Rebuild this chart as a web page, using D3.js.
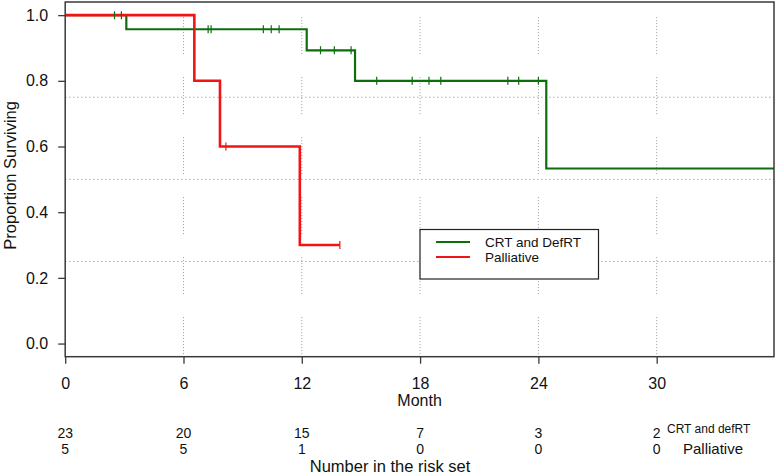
<!DOCTYPE html>
<html><head><meta charset="utf-8">
<script src="https://cdn.jsdelivr.net/npm/d3@7"></script>
<style>body{margin:0;background:#fff}svg{display:block}text{font-family:"Liberation Sans",Arial,sans-serif;fill:#111}</style>
</head><body><svg id="c" width="778" height="474"></svg>
<script>
// ---- data ----
const xTicks = [0, 6, 12, 18, 24, 30];
const yTicks = [0, 0.2, 0.4, 0.6, 0.8, 1.0];
const yTickLabels = ["0.0", "0.2", "0.4", "0.6", "0.8", "1.0"];
const gridY = [0.25, 0.5, 0.75];

const crtTimes = [0, 3.1, 12.25, 14.7, 24.4];
const crtSurv = [1.0, 0.957, 0.893, 0.80, 0.533];
const crtEnd = 36;
const crtCensor = [2.5, 2.85, 7.25, 7.4, 10.05, 10.45, 10.85, 12.95, 13.65, 14.5, 15.8, 17.6, 18.45, 19.05, 22.45, 23.0, 24.0];

const palTimes = [0, 6.55, 7.85, 11.9];
const palSurv = [1.0, 0.8, 0.6, 0.3];
const palEnd = 13.93;
const palCensor = [8.15, 13.93];

const riskTimes = [0, 6, 12, 18, 24, 30];
const riskCRT = [23, 20, 15, 7, 3, 2];
const riskPal = [5, 5, 1, 0, 0, 0];

const seriesNames = ["CRT and DefRT", "Palliative"];
const riskNames = ["CRT and defRT", "Palliative"];

// ---- layout ----
const svg = d3.select("#c");
const L = 65.2, R = 774, T = 2, B = 356.7;
const x = d3.scaleLinear().domain([0, 35.95]).range([L, R]);
const y = d3.scaleLinear().domain([-0.04, 1.04]).range([B, T]);
const GREEN = "#0e6e0e", RED = "#f21414";
const FS = 16;

// grid
const gv = svg.append("g").attr("stroke", "#9a9a9a").attr("stroke-width", 1);
const vDash = "1 2 1 2 1 2 1 2 1 2 1 2 1 2 1 2 1 2 1 2 1 2 1 2 1 23";
xTicks.filter(d => d > 0).forEach(t => {
  gv.append("line").attr("x1", x(t)).attr("x2", x(t)).attr("y1", y(1.0) + 2).attr("y2", B)
    .attr("stroke-dasharray", vDash);
});
gridY.forEach(v => {
  gv.append("line").attr("x1", L).attr("x2", R).attr("y1", y(v)).attr("y2", y(v))
    .attr("stroke-dasharray", "1.2 2.8");
});

// step curve builder
function stepPts(times, surv, end) {
  const pts = [];
  times.forEach((t, i) => {
    if (i > 0) pts.push([t, surv[i - 1]]);
    pts.push([t, surv[i]]);
  });
  pts.push([end, surv[surv.length - 1]]);
  return pts;
}
function survAt(times, surv, t) {
  let s = surv[0];
  times.forEach((tt, i) => { if (tt <= t) s = surv[i]; });
  return s;
}
const line = d3.line().x(d => x(d[0])).y(d => y(d[1]));
svg.append("clipPath").attr("id", "pc").append("rect").attr("x", L).attr("y", T).attr("width", R - L).attr("height", B - T);
const curves = svg.append("g").attr("clip-path", "url(#pc)");

curves.append("path").datum(stepPts(crtTimes, crtSurv, crtEnd)).attr("d", line)
  .attr("fill", "none").attr("stroke", GREEN).attr("stroke-width", 2.2);
curves.append("path").datum(stepPts(palTimes, palSurv, palEnd)).attr("d", line)
  .attr("fill", "none").attr("stroke", RED).attr("stroke-width", 2.6);

curves.selectAll(".cc").data(crtCensor).enter().append("line")
  .attr("x1", d => x(d)).attr("x2", d => x(d))
  .attr("y1", d => y(survAt(crtTimes, crtSurv, d)) - 4).attr("y2", d => y(survAt(crtTimes, crtSurv, d)) + 4)
  .attr("stroke", GREEN).attr("stroke-width", 1.2);
curves.selectAll(".pc").data(palCensor).enter().append("line")
  .attr("x1", d => x(d)).attr("x2", d => x(d))
  .attr("y1", d => y(survAt(palTimes, palSurv, d)) - 4).attr("y2", d => y(survAt(palTimes, palSurv, d)) + 4)
  .attr("stroke", RED).attr("stroke-width", 1.2);

// box
svg.append("rect").attr("x", L).attr("y", T).attr("width", R - L).attr("height", B - T)
  .attr("fill", "none").attr("stroke", "#3a3a3a").attr("stroke-width", 1.5);

// y axis
const yAxis = svg.append("g").attr("transform", `translate(${L},0)`)
  .call(d3.axisLeft(y).tickValues(yTicks).tickSize(7).tickPadding(10).tickFormat((d, i) => yTickLabels[i]));
yAxis.select(".domain").remove();
yAxis.selectAll(".tick line").attr("stroke", "#3a3a3a").attr("stroke-width", 1.3);
yAxis.selectAll("text").attr("font-size", FS).attr("fill", "#111").style("font-family", "Liberation Sans, Arial, sans-serif");

// x axis
const xAxis = svg.append("g").attr("transform", `translate(0,${B})`)
  .call(d3.axisBottom(x).tickValues(xTicks).tickSize(7).tickPadding(14).tickFormat(d3.format("d")));
xAxis.select(".domain").remove();
xAxis.selectAll(".tick line").attr("stroke", "#3a3a3a").attr("stroke-width", 1.3);
xAxis.selectAll("text").attr("font-size", FS).attr("fill", "#111").style("font-family", "Liberation Sans, Arial, sans-serif");

svg.append("text").attr("x", (L + R) / 2).attr("y", 406).attr("text-anchor", "middle").attr("font-size", FS).text("Month");
svg.append("text").attr("transform", `translate(16,${(T + B) / 2 - 4}) rotate(-90)`).attr("text-anchor", "middle")
  .attr("font-size", 16.5).text("Proportion Surviving");

// risk table
svg.selectAll(".r1").data(riskCRT).enter().append("text")
  .attr("x", (d, i) => x(riskTimes[i])).attr("y", 438).attr("text-anchor", "middle").attr("font-size", 14).text(d => d);
svg.selectAll(".r2").data(riskPal).enter().append("text")
  .attr("x", (d, i) => x(riskTimes[i])).attr("y", 454).attr("text-anchor", "middle").attr("font-size", 14).text(d => d);
svg.append("text").attr("x", 667).attr("y", 433).attr("font-size", 12).text(riskNames[0]);
svg.append("text").attr("x", 683).attr("y", 454).attr("font-size", 15).text(riskNames[1]);
svg.append("text").attr("x", 390).attr("y", 472).attr("text-anchor", "middle").attr("font-size", 16.5).text("Number in the risk set");

// legend
const lg = svg.append("g");
lg.append("rect").attr("x", 420).attr("y", 229.5).attr("width", 178.5).attr("height", 49.5)
  .attr("fill", "#fff").attr("stroke", "#222").attr("stroke-width", 1.2);
[GREEN, RED].forEach((c, i) => {
  const yy = 242 + i * 15;
  lg.append("line").attr("x1", 436).attr("x2", 470).attr("y1", yy).attr("y2", yy).attr("stroke", c).attr("stroke-width", 2.2);
  lg.append("text").attr("x", 485).attr("y", yy + 4.5).attr("font-size", 13.5).attr("fill", "#222").text(seriesNames[i]);
});
</script></body></html>
